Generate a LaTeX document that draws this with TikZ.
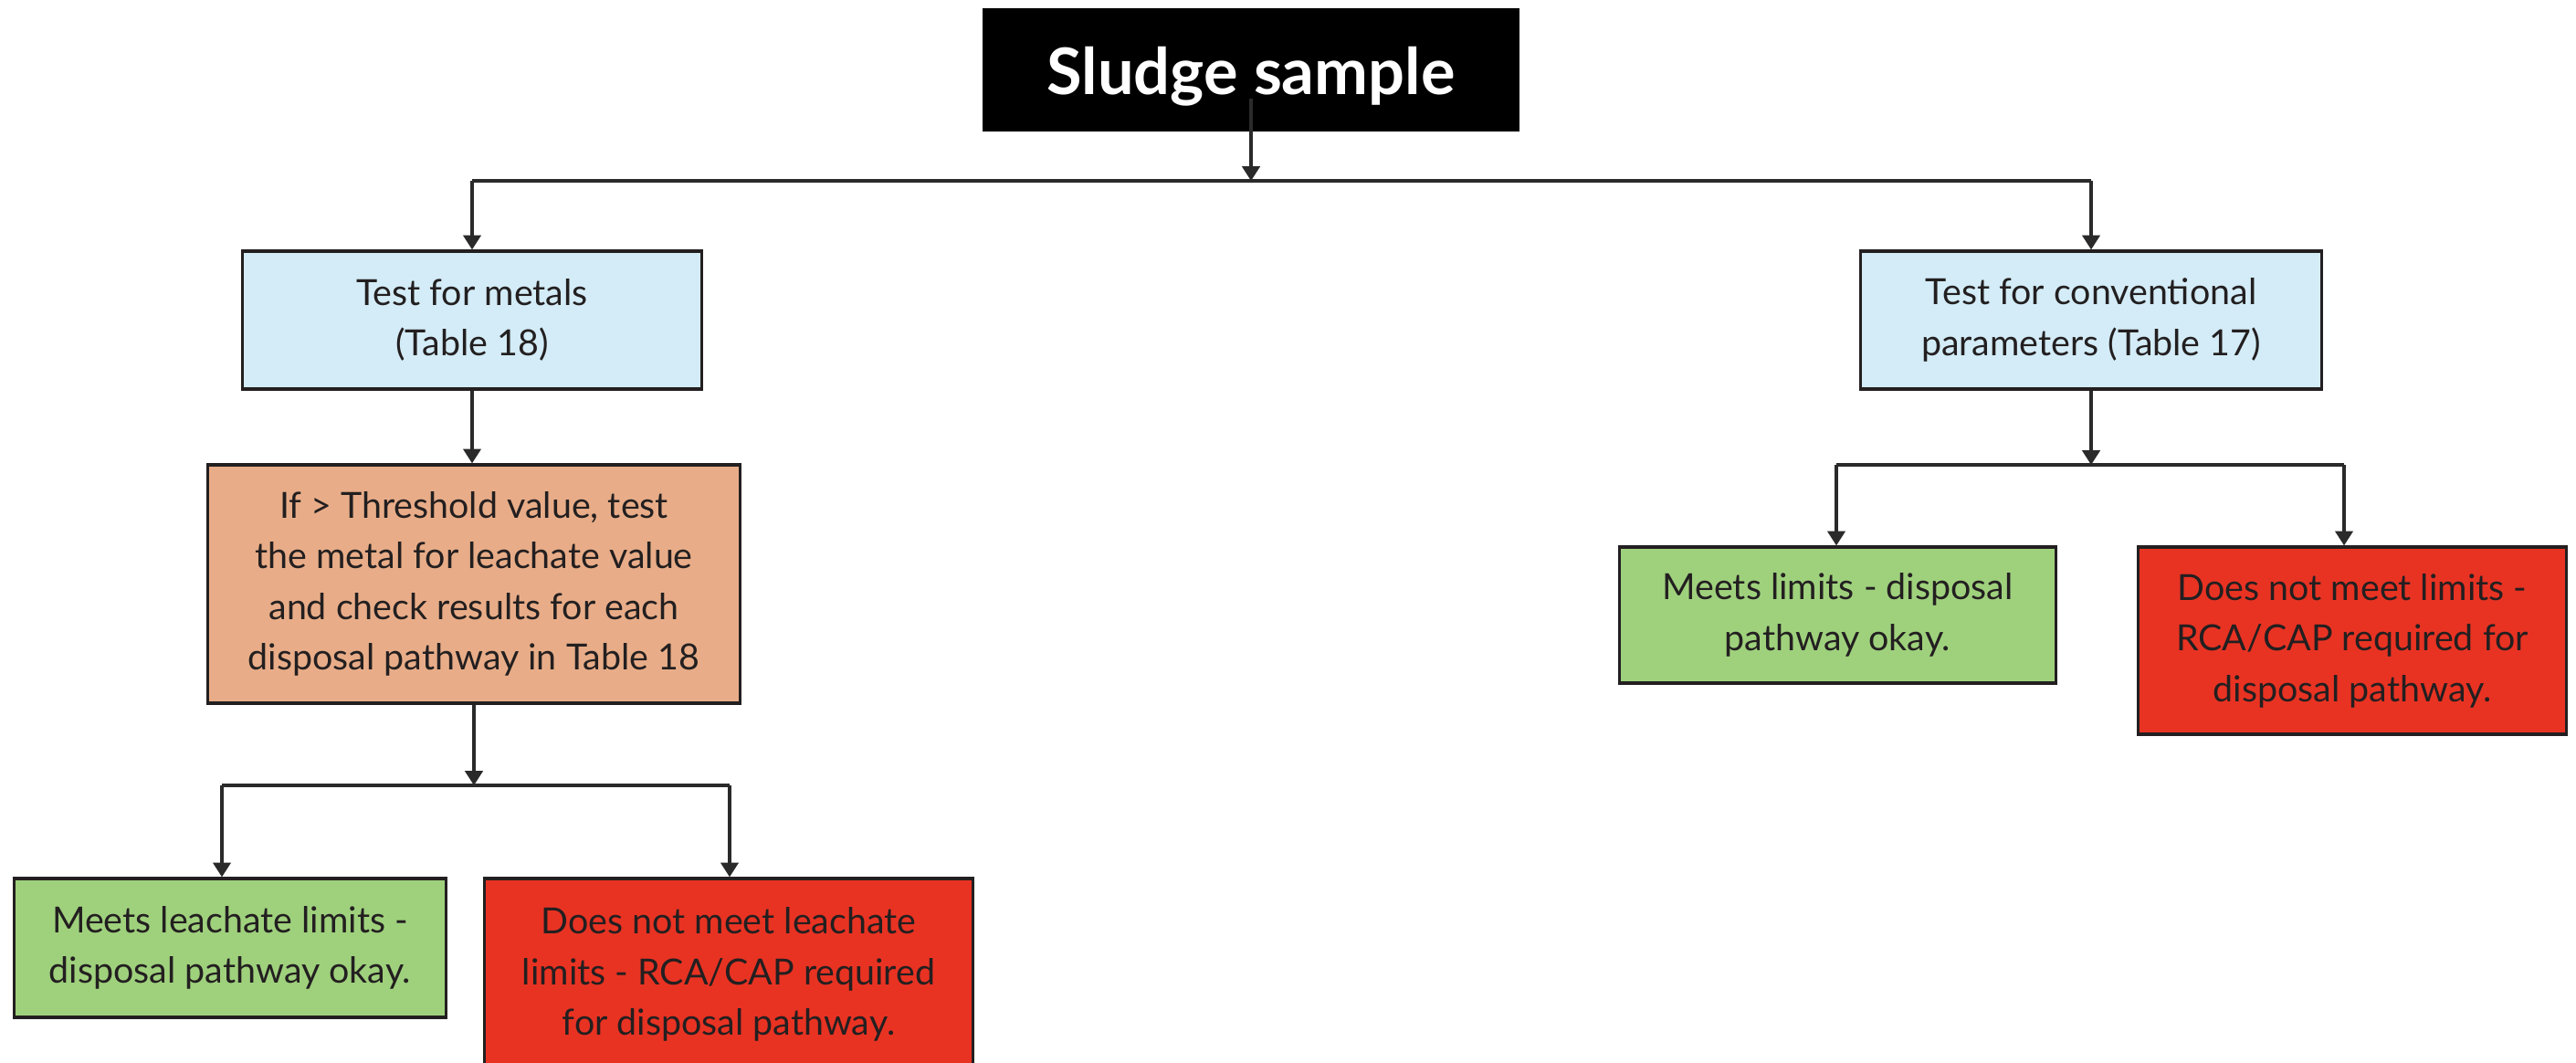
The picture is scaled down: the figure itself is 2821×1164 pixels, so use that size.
\documentclass[tikz,border=0pt]{standalone}
\usepackage{fontspec}
\setmainfont{Lato}
\usetikzlibrary{arrows.meta,calc}
\definecolor{ink}{HTML}{231F20}
\definecolor{linec}{HTML}{2A2A2A}
\definecolor{bluefill}{HTML}{D3ECF7}
\definecolor{orangefill}{HTML}{E8AD88}
\definecolor{greenfill}{HTML}{9FD17D}
\definecolor{redfill}{HTML}{E83323}
\tikzset{
  boxbase/.style={draw=ink, line width=0.9pt, align=center, inner sep=0pt, text=ink,
    font=\fontsize{11.2}{15.8}\selectfont},
  bluebox/.style={boxbase, fill=bluefill},
  orangebox/.style={boxbase, fill=orangefill},
  greenbox/.style={boxbase, fill=greenfill},
  redbox/.style={boxbase, fill=redfill},
  titlebox/.style={fill=black, text=white, inner sep=0pt, font=\fontsize{20}{24}\selectfont\bfseries},
  conn/.style={draw=linec, line width=0.9pt},
  arr/.style={conn, -{Triangle[length=4.5pt,width=5.5pt]}},
}
\begin{document}
\begin{tikzpicture}[x=0.01cm,y=-0.01cm]
\useasboundingbox[fill=white] (0,0) rectangle (2821,1164);

\node[titlebox, minimum width=5.88cm, minimum height=1.35cm] (title) at (1370,76.5) {};
\node[text=white, font=\fontsize{20}{24}\selectfont\bfseries, inner sep=0pt] (titletext) at (1370,84) {Sludge sample};

\node[bluebox, minimum width=5.02cm, minimum height=1.51cm] (metals) at (517,350.5) {Test for metals\\(Table 18)};
\node[orangebox, minimum width=5.82cm, minimum height=2.61cm] (thresh) at (519,639.5)
  {If > Threshold value, test\\the metal for leachate value\\and check results for each\\disposal pathway in Table 18};
\node[greenbox, minimum width=4.72cm, minimum height=1.52cm] (meetsL) at (252,1038) {Meets leachate limits -\\disposal pathway okay.};
\node[redbox, minimum width=5.34cm, minimum height=2.10cm] (failL) at (798,1067) {Does not meet leachate\\limits - RCA/CAP required\\for disposal pathway.};

\node[bluebox, minimum width=5.04cm, minimum height=1.51cm] (conv) at (2290,350.5) {Test for conventional\\parameters (Table 17)};
\node[greenbox, minimum width=4.77cm, minimum height=1.49cm] (meetsR) at (2012.5,673.5) {Meets limits - disposal\\pathway okay.};
\node[redbox, minimum width=4.68cm, minimum height=2.05cm] (failR) at (2576,701.5) {Does not meet limits -\\RCA/CAP required for\\disposal pathway.};

% top split
\coordinate (topstart) at ($(title.center)+(0,32)$);
\coordinate (topsplit) at (1370,198);
\coordinate (topL) at (517,198);
\coordinate (topR) at (2290,198);
\draw[arr] (topstart) -- (topsplit);
\draw[conn] (topL) -- (topR);
\draw[arr] (topL) -- (metals.north);
\draw[arr] (topR) -- (conv.north);

% left chain
\draw[arr] (metals.south) -- (metals.south |- thresh.north);
\coordinate (lsplit) at (519,860);
\coordinate (lsL) at (243,860);
\coordinate (lsR) at (799,860);
\draw[arr] (thresh.south) -- (lsplit);
\draw[conn] (lsL) -- (lsR);
\draw[arr] (lsL) -- (lsL |- meetsL.north);
\draw[arr] (lsR) -- (lsR |- failL.north);

% right chain
\coordinate (rsplit) at (2290,509);
\coordinate (rsL) at (2011,509);
\coordinate (rsR) at (2567,509);
\draw[arr] (conv.south) -- (rsplit);
\draw[conn] (rsL) -- (rsR);
\draw[arr] (rsL) -- (rsL |- meetsR.north);
\draw[arr] (rsR) -- (rsR |- failR.north);
\end{tikzpicture}
\end{document}
